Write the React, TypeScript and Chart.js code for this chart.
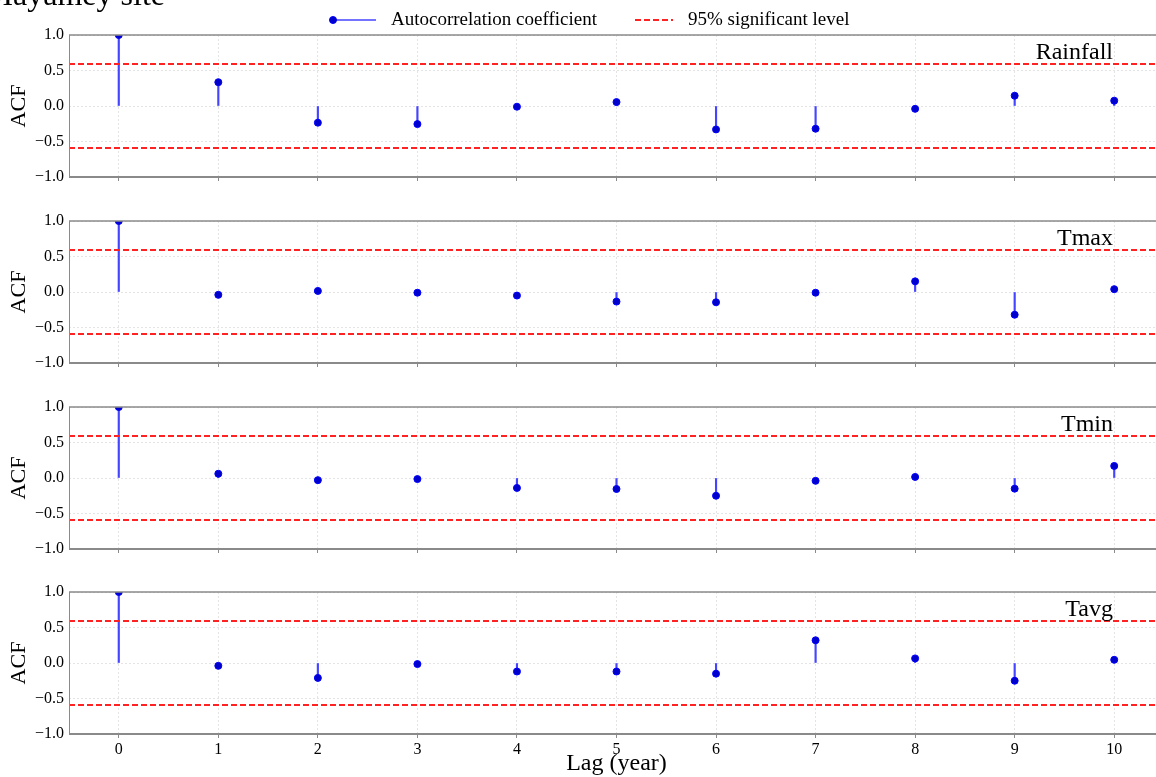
import React, { useEffect, useRef } from 'react';
import { Chart, registerables } from 'chart.js';

Chart.register(...registerables);

const LAGS = [0, 1, 2, 3, 4, 5, 6, 7, 8, 9, 10];
const RAINFALL_ACF = [1.0, 0.335, -0.235, -0.255, -0.01, 0.055, -0.33, -0.32, -0.04, 0.145, 0.075];
const TMAX_ACF = [1.0, -0.04, 0.015, -0.01, -0.05, -0.135, -0.145, -0.01, 0.15, -0.32, 0.04];
const TMIN_ACF = [1.0, 0.06, -0.03, -0.015, -0.14, -0.155, -0.25, -0.04, 0.015, -0.15, 0.17];
const TAVG_ACF = [1.0, -0.04, -0.21, -0.015, -0.12, -0.12, -0.15, 0.32, 0.065, -0.25, 0.045];
const SIG_LEVEL = 0.59;
const PANEL_NAMES = ['Rainfall', 'Tmax', 'Tmin', 'Tavg'];
const PANEL_VALUES = [RAINFALL_ACF, TMAX_ACF, TMIN_ACF, TAVG_ACF];
const Y_TICKS = [-1, -0.5, 0, 0.5, 1];
const SITE_TITLE = 'Mayamey site';
const LEGEND_LABELS = ['Autocorrelation coefficient', '95% significant level'];
const X_TITLE = 'Lag (year)';
const Y_TITLE = 'ACF';

const FONT = "'Liberation Serif', 'Times New Roman', serif";
const STEM_COLOR = '#4545ff';
const DOT_FILL = '#0000cc';
const DOT_EDGE = '#0000ff';
const SIG_COLOR = '#ff2222';
const SPINE = '#8a8a8a';
const GRID = '#e4e4e4';

const CANVAS_W = 1170;
const AREA_H = 142;
const AREA_TOPS = [35, 221, 407, 592];

function fmtTick(v: number) {
  const s = Math.abs(v).toFixed(1);
  return v < 0 ? '\u2212' + s : s;
}

type PanelProps = { index: number };

function Panel({ index }: PanelProps) {
  const ref = useRef<HTMLCanvasElement | null>(null);
  const isFirst = index === 0;
  const isLast = index === 3;
  const padTop = isFirst ? 35 : 10;
  const xHeight = isLast ? 44 : 10;
  const canvasTop = AREA_TOPS[index] - padTop;
  const canvasH = padTop + AREA_H + xHeight;

  useEffect(() => {
    const canvas = ref.current;
    if (!canvas) return;
    const values = PANEL_VALUES[index];
    const name = PANEL_NAMES[index];

    const decor = {
      id: 'decor' + index,
      afterDraw(chart: any) {
        const { ctx, chartArea } = chart;
        const { left, right, top, bottom } = chartArea;
        ctx.save();
        ctx.strokeStyle = SPINE;
        ctx.setLineDash([]);
        ctx.lineWidth = 1.5;
        ctx.beginPath();
        ctx.moveTo(left, top);
        ctx.lineTo(right, top);
        ctx.stroke();
        ctx.lineWidth = 2;
        ctx.beginPath();
        ctx.moveTo(left, bottom);
        ctx.lineTo(right, bottom);
        ctx.stroke();
        ctx.lineWidth = 1;
        ctx.beginPath();
        ctx.moveTo(left + 0.5, top);
        ctx.lineTo(left + 0.5, bottom);
        ctx.stroke();
        ctx.fillStyle = '#000';
        ctx.font = `24px ${FONT}`;
        ctx.textAlign = 'right';
        ctx.textBaseline = 'alphabetic';
        ctx.fillText(name, 1113, top + 24);

        if (isFirst) {
          ctx.font = `32px ${FONT}`;
          ctx.textAlign = 'right';
          ctx.fillText(SITE_TITLE, 165, 5);
          const ly = 20;
          ctx.strokeStyle = STEM_COLOR;
          ctx.lineWidth = 1.5;
          ctx.beginPath();
          ctx.moveTo(333, ly);
          ctx.lineTo(376, ly);
          ctx.stroke();
          ctx.fillStyle = DOT_FILL;
          ctx.strokeStyle = DOT_EDGE;
          ctx.lineWidth = 1;
          ctx.beginPath();
          ctx.arc(333, ly, 3.5, 0, Math.PI * 2);
          ctx.fill();
          ctx.stroke();
          ctx.strokeStyle = SIG_COLOR;
          ctx.lineWidth = 2;
          ctx.setLineDash([6, 3]);
          ctx.beginPath();
          ctx.moveTo(635, ly);
          ctx.lineTo(673, ly);
          ctx.stroke();
          ctx.setLineDash([]);
          ctx.fillStyle = '#000';
          ctx.font = `19px ${FONT}`;
          ctx.textAlign = 'left';
          ctx.textBaseline = 'middle';
          ctx.fillText(LEGEND_LABELS[0], 391, ly);
          ctx.fillText(LEGEND_LABELS[1], 688, ly);
        }
        ctx.restore();
      },
    };

    const chart = new Chart(canvas, {
      type: 'bar',
      data: {
        datasets: [
          {
            type: 'line',
            label: 'points',
            data: LAGS.map((x, i) => ({ x, y: values[i] })),
            showLine: false,
            pointRadius: 3.5,
            pointBackgroundColor: DOT_FILL,
            pointBorderColor: DOT_EDGE,
            pointBorderWidth: 1,
            clip: 0,
            order: 0,
          } as any,
          {
            type: 'line',
            label: 'upper',
            data: [
              { x: -0.5, y: SIG_LEVEL },
              { x: 10.5, y: SIG_LEVEL },
            ],
            borderColor: SIG_COLOR,
            borderWidth: 2,
            borderDash: [6, 3],
            pointRadius: 0,
            clip: 0,
            order: 1,
          } as any,
          {
            type: 'line',
            label: 'lower',
            data: [
              { x: -0.5, y: -SIG_LEVEL },
              { x: 10.5, y: -SIG_LEVEL },
            ],
            borderColor: SIG_COLOR,
            borderWidth: 2,
            borderDash: [6, 3],
            pointRadius: 0,
            clip: 0,
            order: 1,
          } as any,
          {
            type: 'bar',
            label: 'stems',
            data: LAGS.map((x, i) => ({ x, y: values[i] })),
            backgroundColor: STEM_COLOR,
            borderWidth: 0,
            barThickness: 1.5,
            order: 2,
          } as any,
        ],
      },
      options: {
        responsive: false,
        animation: false,
        layout: { padding: { top: padTop, right: 6, bottom: 0, left: 0 } },
        plugins: {
          legend: { display: false },
          tooltip: { enabled: false },
          title: { display: false },
        },
        events: [],
        scales: {
          x: {
            type: 'linear',
            min: -0.5,
            max: 10.5,
            offset: false,
            afterBuildTicks: (s: any) => {
              s.ticks = LAGS.map((v) => ({ value: v }));
            },
            afterFit: (s: any) => {
              s.height = xHeight;
              s.paddingLeft = 0;
              s.paddingRight = 0;
            },
            grid: {
              offset: false,
              color: GRID,
              lineWidth: 1,
              drawTicks: true,
              tickLength: 4,
              tickColor: SPINE,
              tickWidth: 1,
              tickBorderDash: [],
            } as any,
            border: { display: false, dash: [2, 2] },
            ticks: {
              display: isLast,
              autoSkip: false,
              maxRotation: 0,
              padding: 2,
              color: '#000',
              font: { family: FONT, size: 16 },
              callback: (v: any) => String(v),
            },
            title: {
              display: isLast,
              text: X_TITLE,
              color: '#000',
              font: { family: FONT, size: 24 },
              padding: { top: 0, bottom: 0 },
            },
          },
          y: {
            type: 'linear',
            min: -1,
            max: 1,
            afterBuildTicks: (s: any) => {
              s.ticks = Y_TICKS.map((v) => ({ value: v }));
            },
            afterFit: (s: any) => {
              s.width = 69;
              s.paddingTop = 0;
              s.paddingBottom = 0;
            },
            grid: { color: GRID, lineWidth: 1, drawTicks: false },
            border: { display: false, dash: [2, 2] },
            ticks: {
              padding: 5,
              color: '#000',
              font: { family: FONT, size: 16 },
              callback: (v: any) => fmtTick(Number(v)),
            },
            title: {
              display: true,
              text: Y_TITLE,
              color: '#000',
              font: { family: FONT, size: 22 },
              padding: { top: 6, bottom: 0 },
            },
          },
        },
      } as any,
      plugins: [decor as any],
    });
    return () => {
      chart.destroy();
    };
  }, [index]);

  return (
    <div style={{ position: 'absolute', left: 0, top: canvasTop, width: CANVAS_W, height: canvasH }}>
      <canvas
        ref={ref}
        width={CANVAS_W}
        height={canvasH}
        style={{ display: 'block', width: CANVAS_W, height: canvasH }}
      />
    </div>
  );
}

export default function App() {
  return (
    <div
      style={{
        position: 'absolute',
        left: 0,
        top: 0,
        width: 1156,
        height: 777,
        overflow: 'hidden',
        background: '#fff',
      }}
    >
      {[0, 1, 2, 3].map((i) => (
        <Panel key={i} index={i} />
      ))}
    </div>
  );
}
